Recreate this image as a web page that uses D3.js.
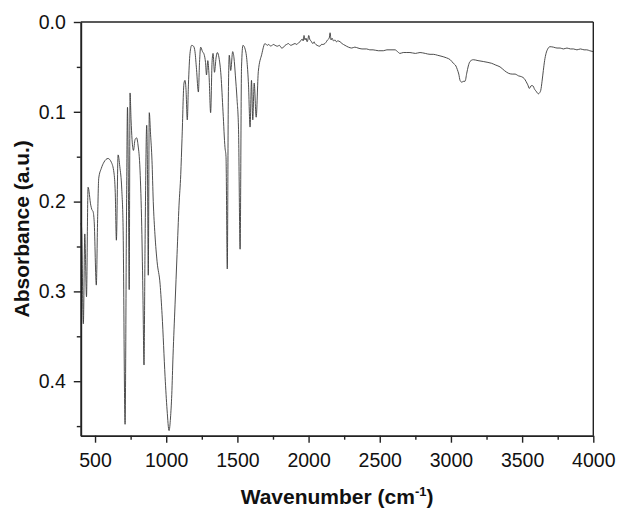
<!DOCTYPE html>
<html>
<head>
<meta charset="utf-8">
<script src="https://cdn.jsdelivr.net/npm/d3@7"></script>
<style>
  html, body { margin: 0; padding: 0; background: #fff; }
  svg { display: block; }
  text { font-family: "Liberation Sans", Arial, sans-serif; }
</style>
</head>
<body>
<svg id="chart" width="621" height="510"></svg>
<script>
// ---- Data ----
const wavenumber = [
  400, 405, 418, 428, 440, 451, 470, 478, 486, 494, 509, 518, 526, 544, 563, 591, 614, 633, 642, 650, 662, 674, 688, 697,
  711, 721, 728, 735, 740, 746, 753, 760, 770, 781, 792, 802, 816, 828, 837, 844, 851, 863, 869, 874, 881, 890,
  900, 909, 921, 936, 957, 971, 992, 1006, 1020, 1030, 1039, 1048, 1062, 1076, 1090, 1102, 1111, 1125, 1132, 1139,
  1148, 1156, 1167, 1179, 1192, 1202, 1213, 1226, 1234, 1242, 1255, 1266, 1276, 1283, 1292, 1301, 1312, 1322,
  1329, 1339, 1350, 1359, 1371, 1385, 1399, 1413, 1420, 1429, 1436, 1443, 1453, 1467, 1476, 1486, 1497, 1508,
  1519, 1529, 1539, 1554, 1568, 1578, 1589, 1599, 1608, 1618, 1632, 1647, 1671, 1694,
  1710, 1720, 1735, 1752, 1765, 1780, 1795, 1811, 1825, 1835, 1846, 1858, 1875, 1890, 1905, 1917, 1930, 1940,
  1948, 1955, 1962, 1968, 1975, 1982, 1990, 1996, 2001, 2010, 2017, 2024, 2031, 2038, 2045, 2060, 2080, 2090,
  2100, 2115, 2125, 2133, 2140, 2145, 2151, 2158, 2165, 2175, 2186, 2195, 2205, 2221, 2235, 2256, 2280, 2303,
  2325, 2347, 2375, 2408, 2430, 2453, 2490, 2525, 2550, 2572, 2607, 2625, 2642, 2665, 2690, 2712, 2750, 2783,
  2820, 2853, 2876, 2905, 2930, 2970, 2995, 3017, 3035, 3045, 3055, 3064, 3076, 3090, 3099, 3111, 3122, 3134,
  3157, 3190, 3227, 3260, 3286, 3315, 3345, 3375, 3403, 3430, 3450, 3475, 3497, 3515, 3527, 3540, 3551, 3563,
  3575, 3588, 3598, 3607, 3614, 3622, 3631, 3640, 3649, 3658, 3668, 3680, 3696, 3720, 3745, 3767, 3790, 3815,
  3840, 3860, 3885, 3910, 3935, 3954, 3975, 4000
];
const absorbance = [
  0.224, 0.228, 0.336, 0.236, 0.306, 0.184, 0.204, 0.209, 0.211, 0.222, 0.293, 0.220, 0.174, 0.163, 0.156, 0.152, 0.156, 0.168, 0.190, 0.243, 0.148, 0.161, 0.187, 0.228,
  0.448, 0.215, 0.095, 0.198, 0.298, 0.079, 0.109, 0.131, 0.143, 0.131, 0.129, 0.137, 0.165, 0.228, 0.310, 0.382, 0.254, 0.115, 0.176, 0.282, 0.101, 0.125,
  0.154, 0.200, 0.237, 0.267, 0.292, 0.326, 0.395, 0.432, 0.455, 0.441, 0.415, 0.371, 0.315, 0.259, 0.204, 0.170, 0.130, 0.068, 0.065, 0.075,
  0.109, 0.070, 0.035, 0.026, 0.027, 0.033, 0.053, 0.078, 0.045, 0.028, 0.033, 0.036, 0.045, 0.059, 0.043, 0.060, 0.101, 0.045,
  0.035, 0.056, 0.040, 0.034, 0.040, 0.060, 0.100, 0.140, 0.150, 0.275, 0.090, 0.037, 0.054, 0.033, 0.040, 0.060, 0.085, 0.120,
  0.253, 0.050, 0.026, 0.030, 0.045, 0.070, 0.117, 0.065, 0.109, 0.068, 0.106, 0.055, 0.036, 0.024,
  0.026, 0.025, 0.027, 0.025, 0.026, 0.027, 0.026, 0.029, 0.028, 0.026, 0.025, 0.024, 0.026, 0.025, 0.024, 0.025, 0.023, 0.022,
  0.020, 0.019, 0.021, 0.015, 0.020, 0.018, 0.022, 0.019, 0.015, 0.020, 0.021, 0.023, 0.024, 0.022, 0.024, 0.026, 0.027, 0.025,
  0.025, 0.024, 0.022, 0.020, 0.019, 0.018, 0.012, 0.020, 0.018, 0.021, 0.020, 0.022, 0.021, 0.022, 0.024, 0.026, 0.028, 0.029,
  0.028, 0.029, 0.030, 0.030, 0.031, 0.031, 0.032, 0.032, 0.031, 0.031, 0.031, 0.033, 0.035, 0.034, 0.034, 0.034, 0.035, 0.034,
  0.035, 0.036, 0.036, 0.037, 0.038, 0.040, 0.042, 0.046, 0.049, 0.053, 0.058, 0.065, 0.067, 0.066, 0.066, 0.057, 0.049, 0.044,
  0.042, 0.043, 0.044, 0.045, 0.046, 0.048, 0.050, 0.054, 0.057, 0.058, 0.058, 0.060, 0.061, 0.063, 0.066, 0.070, 0.074, 0.071,
  0.071, 0.075, 0.077, 0.079, 0.080, 0.079, 0.076, 0.066, 0.054, 0.043, 0.035, 0.030, 0.0275, 0.028, 0.029, 0.029, 0.030, 0.029,
  0.030, 0.030, 0.031, 0.030, 0.031, 0.031, 0.032, 0.033
];
const xTicks = [500, 1000, 1500, 2000, 2500, 3000, 3500, 4000];
const xMinorTicks = [750, 1250, 1750, 2250, 2750, 3250, 3750];
const yTicks = [0.0, 0.1, 0.2, 0.3, 0.4];
const yMinorTicks = [0.05, 0.15, 0.25, 0.35, 0.45];
const xLabel = "Wavenumber (cm";
const xLabelSup = "-1";
const yLabel = "Absorbance (a.u.)";

// ---- Layout ----
const svg = d3.select("#chart");
const pL = 80.8, pR = 593.3, pT = 22, pB = 435.7;

const x = d3.scaleLinear().domain([400, 4000]).range([pL, pR]);
const y = d3.scaleLinear().domain([0, 0.4607]).range([pT, pB]);

const n = Math.min(wavenumber.length, absorbance.length);
const data = wavenumber.slice(0, n).map((w, i) => [w, absorbance[i]]);

// spectrum line
svg.append("path")
  .datum(data)
  .attr("fill", "none")
  .attr("stroke", "#3a3a3a")
  .attr("stroke-width", 0.9)
  .attr("stroke-linejoin", "round")
  .attr("d", d3.line().x(d => x(d[0])).y(d => y(d[1])).curve(d3.curveMonotoneX));

// frame (top and right)
svg.append("line").attr("x1", pL).attr("x2", pR).attr("y1", pT).attr("y2", pT)
  .attr("stroke", "#222").attr("stroke-width", 1.4);
svg.append("line").attr("x1", pR).attr("x2", pR).attr("y1", pT).attr("y2", pB)
  .attr("stroke", "#222").attr("stroke-width", 1.4);

// x axis
const gx = svg.append("g").attr("transform", `translate(0,${pB})`);
gx.call(d3.axisBottom(x).tickValues(xTicks).tickSize(7).tickSizeOuter(0).tickFormat(d3.format("d")).tickPadding(10));
gx.append("g").call(d3.axisBottom(x).tickValues(xMinorTicks).tickSize(4).tickSizeOuter(0).tickFormat(""));
gx.selectAll(".domain").attr("stroke", "#222").attr("stroke-width", 1.6);
gx.selectAll(".tick line").attr("stroke", "#222").attr("stroke-width", 1.4);
gx.selectAll(".tick text").attr("font-size", 19.5).attr("fill", "#111")
  .attr("font-family", "'Liberation Sans', Arial, sans-serif");

// y axis
const gy = svg.append("g").attr("transform", `translate(${pL},0)`);
gy.call(d3.axisLeft(y).tickValues(yTicks).tickSize(7).tickSizeOuter(0).tickFormat(d3.format(".1f")).tickPadding(8));
gy.append("g").call(d3.axisLeft(y).tickValues(yMinorTicks).tickSize(4).tickSizeOuter(0).tickFormat(""));
gy.selectAll(".domain").attr("stroke", "#222").attr("stroke-width", 1.6);
gy.selectAll(".tick line").attr("stroke", "#222").attr("stroke-width", 1.4);
gy.selectAll(".tick text").attr("font-size", 19.5).attr("fill", "#111")
  .attr("font-family", "'Liberation Sans', Arial, sans-serif");

// axis titles
const xt = svg.append("text")
  .attr("x", (pL + pR) / 2).attr("y", 504)
  .attr("text-anchor", "middle").attr("font-size", 21).attr("font-weight", "bold").attr("fill", "#111");
xt.append("tspan").text(xLabel);
xt.append("tspan").text(xLabelSup).attr("font-size", 13).attr("dy", -8);
xt.append("tspan").text(")").attr("dy", 8);

svg.append("text")
  .attr("transform", `translate(29,${(pT + pB) / 2}) rotate(-90)`)
  .attr("text-anchor", "middle").attr("font-size", 21).attr("font-weight", "bold").attr("fill", "#111")
  .text(yLabel);
</script>
</body>
</html>
